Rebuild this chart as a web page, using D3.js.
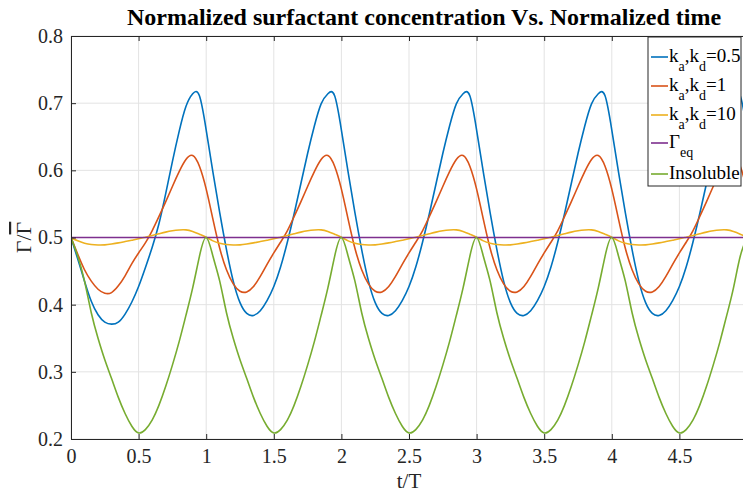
<!DOCTYPE html>
<html>
<head>
<meta charset="utf-8">
<script src="https://cdn.jsdelivr.net/npm/d3@7"></script>
<style>
  body { margin: 0; background: #fff; }
  svg text { font-family: "Liberation Serif", "Times New Roman", Times, serif; }
</style>
</head>
<body>
<div id="chart"></div>
<script>
var tStep = 0.05;
var blueVals = [
  0.5, 0.468, 0.435, 0.405, 0.385, 0.374, 0.371, 0.374, 0.386, 0.404, 0.427, 0.455, 0.485, 0.52, 0.565, 0.613, 0.658, 0.695, 0.714, 0.711,
  0.66, 0.597, 0.537, 0.482, 0.435, 0.403, 0.387, 0.384, 0.391, 0.406, 0.427, 0.456, 0.493, 0.535, 0.58, 0.625, 0.666, 0.699, 0.714, 0.711,
  0.66, 0.597, 0.537, 0.482, 0.435, 0.403, 0.387, 0.384, 0.391, 0.406, 0.427, 0.456, 0.493, 0.535, 0.58, 0.625, 0.666, 0.699, 0.714, 0.711,
  0.66, 0.597, 0.537, 0.482, 0.435, 0.403, 0.387, 0.384, 0.391, 0.406, 0.427, 0.456, 0.493, 0.535, 0.58, 0.625, 0.666, 0.699, 0.714, 0.711,
  0.66, 0.597, 0.537, 0.482, 0.435, 0.403, 0.387, 0.384, 0.391, 0.406, 0.427, 0.456, 0.493, 0.535, 0.58, 0.625, 0.666, 0.699, 0.714, 0.711,
  0.66
];
var orangeVals = [
  0.5, 0.475, 0.452, 0.435, 0.423, 0.417, 0.418, 0.428, 0.443, 0.461, 0.477, 0.492, 0.51, 0.531, 0.553, 0.576, 0.598, 0.616, 0.622, 0.606,
  0.572, 0.527, 0.484, 0.452, 0.431, 0.42, 0.419, 0.427, 0.442, 0.46, 0.477, 0.493, 0.51, 0.531, 0.553, 0.576, 0.598, 0.616, 0.622, 0.606,
  0.572, 0.527, 0.484, 0.452, 0.431, 0.42, 0.419, 0.427, 0.442, 0.46, 0.477, 0.493, 0.51, 0.531, 0.553, 0.576, 0.598, 0.616, 0.622, 0.606,
  0.572, 0.527, 0.484, 0.452, 0.431, 0.42, 0.419, 0.427, 0.442, 0.46, 0.477, 0.493, 0.51, 0.531, 0.553, 0.576, 0.598, 0.616, 0.622, 0.606,
  0.572, 0.527, 0.484, 0.452, 0.431, 0.42, 0.419, 0.427, 0.442, 0.46, 0.477, 0.493, 0.51, 0.531, 0.553, 0.576, 0.598, 0.616, 0.622, 0.606,
  0.572
];
var yellowVals = [
  0.5, 0.495, 0.4915, 0.4895, 0.4888, 0.489, 0.4903, 0.492, 0.494, 0.496, 0.498, 0.5005, 0.503, 0.5055, 0.508, 0.51, 0.5112, 0.5113, 0.509, 0.505,
  0.5005, 0.495, 0.4915, 0.4895, 0.4888, 0.489, 0.4903, 0.492, 0.494, 0.496, 0.498, 0.5005, 0.503, 0.5055, 0.508, 0.51, 0.5112, 0.5113, 0.509, 0.505,
  0.5005, 0.495, 0.4915, 0.4895, 0.4888, 0.489, 0.4903, 0.492, 0.494, 0.496, 0.498, 0.5005, 0.503, 0.5055, 0.508, 0.51, 0.5112, 0.5113, 0.509, 0.505,
  0.5005, 0.495, 0.4915, 0.4895, 0.4888, 0.489, 0.4903, 0.492, 0.494, 0.496, 0.498, 0.5005, 0.503, 0.5055, 0.508, 0.51, 0.5112, 0.5113, 0.509, 0.505,
  0.5005, 0.495, 0.4915, 0.4895, 0.4888, 0.489, 0.4903, 0.492, 0.494, 0.496, 0.498, 0.5005, 0.503, 0.5055, 0.508, 0.51, 0.5112, 0.5113, 0.509, 0.505,
  0.5005
];
var greenVals = [
  0.5, 0.472, 0.435, 0.388, 0.35, 0.318, 0.29, 0.262, 0.238, 0.219, 0.209, 0.214, 0.228, 0.25, 0.278, 0.31, 0.345, 0.384, 0.425, 0.472,
  0.5, 0.472, 0.435, 0.388, 0.35, 0.318, 0.29, 0.262, 0.238, 0.219, 0.209, 0.214, 0.228, 0.25, 0.278, 0.31, 0.345, 0.384, 0.425, 0.472,
  0.5, 0.472, 0.435, 0.388, 0.35, 0.318, 0.29, 0.262, 0.238, 0.219, 0.209, 0.214, 0.228, 0.25, 0.278, 0.31, 0.345, 0.384, 0.425, 0.472,
  0.5, 0.472, 0.435, 0.388, 0.35, 0.318, 0.29, 0.262, 0.238, 0.219, 0.209, 0.214, 0.228, 0.25, 0.278, 0.31, 0.345, 0.384, 0.425, 0.472,
  0.5, 0.472, 0.435, 0.388, 0.35, 0.318, 0.29, 0.262, 0.238, 0.219, 0.209, 0.214, 0.228, 0.25, 0.278, 0.31, 0.345, 0.384, 0.425, 0.472,
  0.5
];
var eqTimes = [0, 5];
var eqVals = [0.5, 0.5];

var xTicks = [0, 0.5, 1, 1.5, 2, 2.5, 3, 3.5, 4, 4.5, 5];
var yTicks = [0.2, 0.3, 0.4, 0.5, 0.6, 0.7, 0.8];

var series = [
  {label: ['k', 'a', ',k', 'd', '=0.5'], vals: blueVals, color: '#0072BD'},
  {label: ['k', 'a', ',k', 'd', '=1'], vals: orangeVals, color: '#D95319'},
  {label: ['k', 'a', ',k', 'd', '=10'], vals: yellowVals, color: '#EDB120'},
  {label: ['\u0393', 'eq'], vals: null, color: '#7E2F8E'},
  {label: ['Insoluble'], vals: greenVals, color: '#77AC30'}
];

var W = 743, H = 493;
var margin = {top: 36, left: 71, right: -4, bottom: 54};
var width = W - margin.left - margin.right, height = H - margin.top - margin.bottom;
var serif = '"Liberation Serif", "Times New Roman", Times, serif';

var x = d3.scaleLinear().domain([0, 5]).range([0, width]);
var y = d3.scaleLinear().domain([0.2, 0.8]).range([height, 0]);

var svg = d3.select('#chart').append('svg').attr('width', W).attr('height', H);
var g = svg.append('g').attr('transform', 'translate(' + margin.left + ',' + margin.top + ')');

g.append('clipPath').attr('id', 'clip').append('rect').attr('width', width).attr('height', height);

// grid
g.selectAll('.gx').data(xTicks).enter().append('line')
  .attr('x1', function(d) { return x(d); }).attr('x2', function(d) { return x(d); })
  .attr('y1', 0).attr('y2', height)
  .attr('stroke', '#e3e3e3').attr('stroke-width', 1);
g.selectAll('.gy').data(yTicks).enter().append('line')
  .attr('y1', function(d) { return y(d); }).attr('y2', function(d) { return y(d); })
  .attr('x1', 0).attr('x2', width)
  .attr('stroke', '#e3e3e3').attr('stroke-width', 1);

// curves
var line = d3.line()
  .x(function(d) { return x(d[0]); })
  .y(function(d) { return y(d[1]); })
  .curve(d3.curveNatural);

var lines = g.append('g').attr('clip-path', 'url(#clip)');
series.forEach(function(s) {
  var pts = s.vals ? s.vals.map(function(v, i) { return [i * tStep, v]; })
                   : eqTimes.map(function(t, i) { return [t, eqVals[i]]; });
  lines.append('path').datum(pts)
    .attr('d', line)
    .attr('fill', 'none')
    .attr('stroke', s.color)
    .attr('stroke-width', 1.6);
});

// axes
var axisColor = '#262626';
var xAxis = d3.axisBottom(x).tickValues(xTicks).tickFormat(d3.format('')).tickSizeInner(-5).tickSizeOuter(0).tickPadding(10);
var yAxis = d3.axisLeft(y).tickValues(yTicks).tickFormat(d3.format('.1f')).tickSizeInner(-5).tickSizeOuter(0).tickPadding(8);
var xTop = d3.axisTop(x).tickValues(xTicks).tickFormat('').tickSizeInner(-5).tickSizeOuter(0);

function styleAxis(sel) {
  sel.attr('font-family', null).attr('font-size', null);
  sel.selectAll('path').attr('stroke', axisColor).attr('stroke-width', 1);
  sel.selectAll('line').attr('stroke', axisColor).attr('stroke-width', 1);
  sel.selectAll('text').attr('fill', axisColor)
    .style('font-size', '20px').style('font-family', serif);
}
g.append('g').attr('transform', 'translate(0,' + height + ')').call(xAxis).call(styleAxis);
g.append('g').call(yAxis).call(styleAxis);
g.append('g').call(xTop).call(styleAxis);

// title and axis labels
svg.append('text')
  .attr('x', 424).attr('y', 25)
  .attr('text-anchor', 'middle').style('font-weight', 'bold').style('font-size', '24px')
  .style('font-family', serif).attr('fill', '#000')
  .text('Normalized surfactant concentration Vs. Normalized time');

svg.append('text')
  .attr('x', margin.left + width / 2).attr('y', 488)
  .attr('text-anchor', 'middle').style('font-size', '21px').style('font-family', serif).attr('fill', axisColor)
  .text('t/T');

var yl = svg.append('text')
  .attr('transform', 'translate(31,' + (margin.top + height / 2) + ') rotate(-90)')
  .attr('text-anchor', 'middle').style('font-size', '22px').style('font-family', serif).attr('fill', axisColor);
yl.append('tspan').text('\u0393/');
yl.append('tspan').attr('text-decoration', 'overline').text('\u0393');

// legend
var lg = svg.append('g').attr('transform', 'translate(648,37)');
lg.append('rect').attr('width', 93).attr('height', 149)
  .attr('fill', '#fff').attr('stroke', axisColor).attr('stroke-width', 1);
var rowY = [20, 49, 78, 106, 137];
series.forEach(function(s, i) {
  var row = lg.append('g').attr('transform', 'translate(0,' + rowY[i] + ')');
  row.append('line').attr('x1', 3).attr('x2', 20).attr('y1', 0).attr('y2', 0)
    .attr('stroke', s.color).attr('stroke-width', 1.6);
  var t = row.append('text').attr('x', 21).attr('y', 5).attr('fill', '#000')
    .style('font-size', '19px').style('font-family', serif);
  s.label.forEach(function(part, j) {
    var sub = (j % 2 === 1);
    var ts = t.append('tspan').text(part);
    if (sub) ts.attr('dy', 9).style('font-size', '14px');
    else if (j > 0) ts.attr('dy', -9);
  });
});
</script>
</body>
</html>
